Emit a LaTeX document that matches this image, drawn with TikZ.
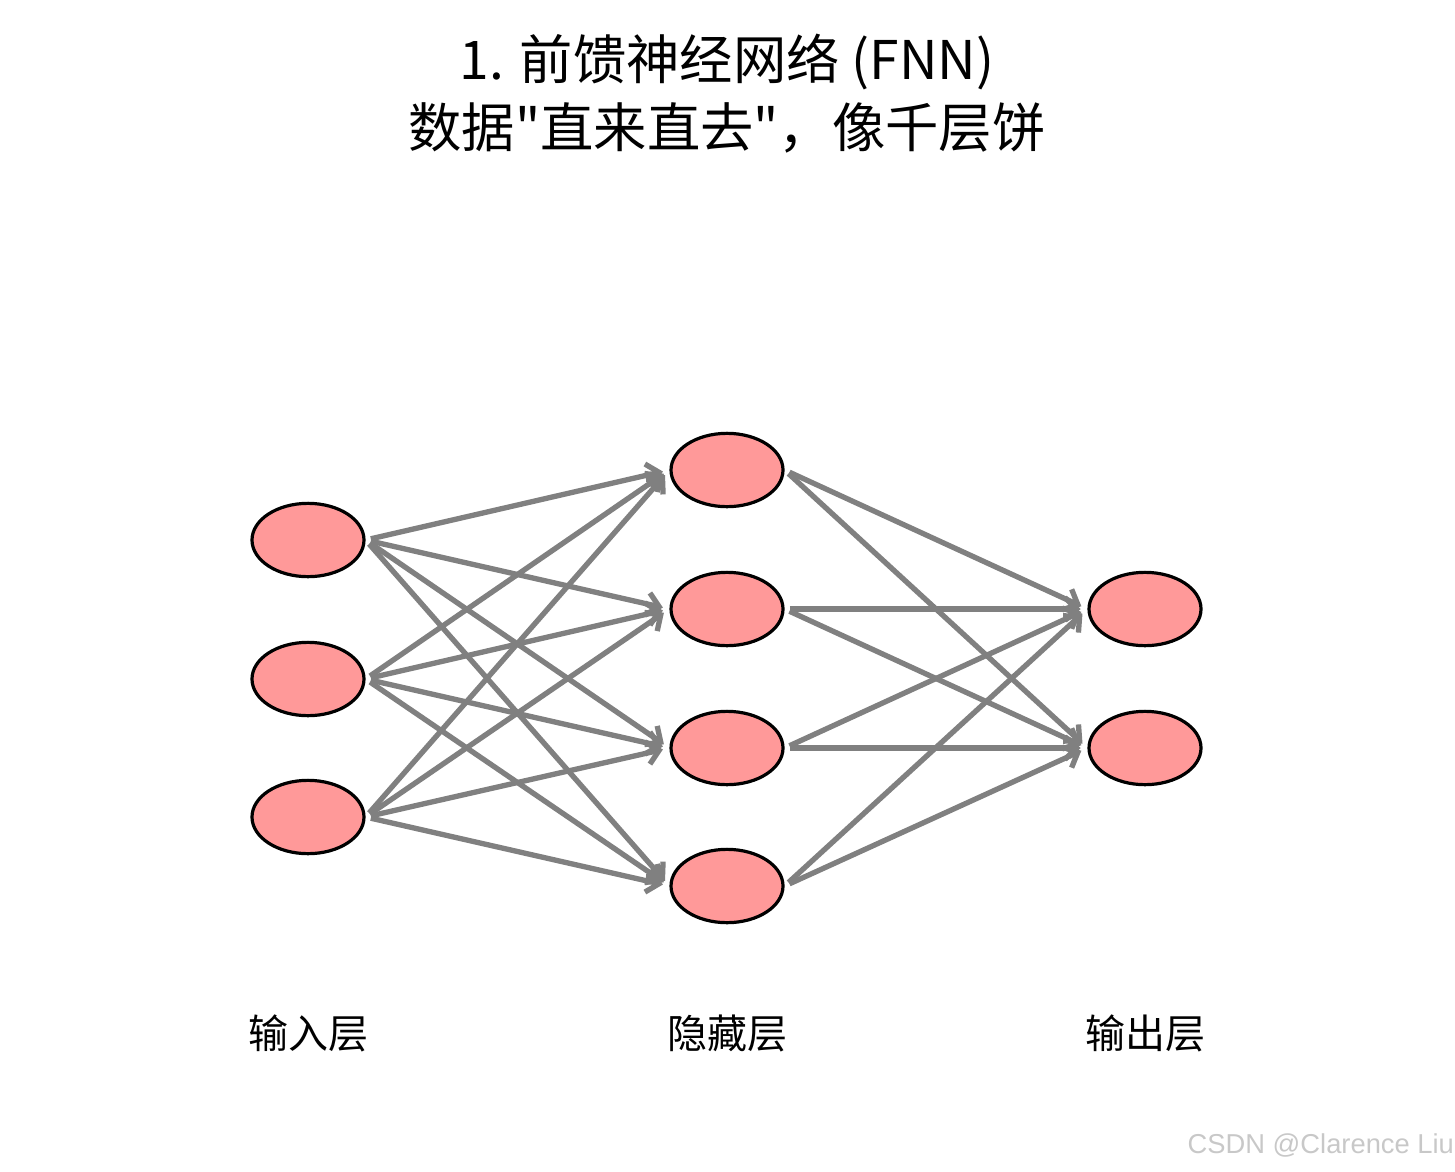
\documentclass[tikz,border=0pt]{standalone}
\usepackage{fontspec}
\setmainfont{Liberation Sans}
\newfontfamily\cjk{Noto Sans CJK SC}
\usetikzlibrary{arrows.meta,shapes.geometric}
\begin{document}
\begin{tikzpicture}[x=0.75pt,y=-0.75pt,
  neuron/.style={ellipse,draw=black,line width=2.4pt,fill={rgb,255:red,255;green,153;blue,153},minimum width=84pt,minimum height=55pt,inner sep=0pt},
  conn/.style={draw={rgb,255:red,128;green,128;blue,128},line width=4pt,-{Straight Barb[length=9pt,width=17pt,line width=4pt]},shorten <=4pt,shorten >=5pt},
  lab/.style={font=\cjk\fontsize{30}{32}\selectfont}]
\useasboundingbox (0,0) rectangle (1455,1171);
\foreach \i/\y in {1/540,2/679,3/817} \node[neuron] (i\i) at (308,\y) {};
\foreach \i/\y in {1/470,2/609,3/748,4/886} \node[neuron] (h\i) at (727,\y) {};
\foreach \i/\y in {1/609,2/748} \node[neuron] (o\i) at (1145,\y) {};
\foreach \a in {1,2,3} \foreach \b in {1,2,3,4} \draw[conn] (i\a.east) -- (h\b.west);
\foreach \a in {1,2,3,4} \foreach \b in {1,2} \draw[conn] (h\a.east) -- (o\b.west);
\node[font=\cjk\fontsize{40}{51}\selectfont,align=center] (title) at (727,94) {1. 前馈神经网络 (FNN)\\数据"直来直去"，像千层饼};
\node[lab] (l1) at (308,1033) {输入层};
\node[lab] (l2) at (727,1033) {隐藏层};
\node[lab] (l3) at (1145,1033) {输出层};
\node[font=\fontsize{20.5}{22}\selectfont,text={rgb,255:red,200;green,200;blue,200},anchor=west] (wm) at (1183,1145) {CSDN @Clarence Liu};
\end{tikzpicture}
\end{document}
